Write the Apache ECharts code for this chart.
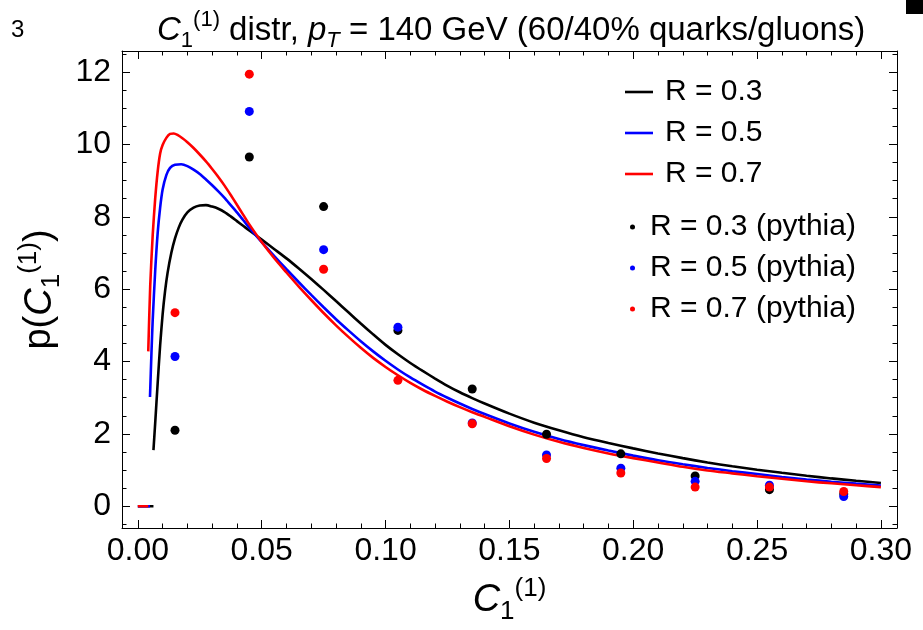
<!DOCTYPE html>
<html>
<head>
<meta charset="utf-8">
<script src="https://cdn.jsdelivr.net/npm/echarts@6/dist/echarts.min.js"></script>
<style>
  html, body { margin: 0; padding: 0; background: #fff; }
  #chart { width: 923px; height: 630px; }
</style>
</head>
<body>
<div id="chart"></div>
<script>
// Pythia histograms: bin centres and normalised densities
const binCentres = [0.015, 0.045, 0.075, 0.105, 0.135, 0.165, 0.195, 0.225, 0.255, 0.285];
const pythiaR03 = [2.10, 9.65, 8.28, 4.86, 3.24, 1.99, 1.45, 0.84, 0.46, 0.34];
const pythiaR05 = [4.14, 10.91, 7.09, 4.95, 2.30, 1.42, 1.05, 0.69, 0.58, 0.27];
const pythiaR07 = [5.35, 11.94, 6.55, 3.48, 2.28, 1.32, 0.92, 0.53, 0.53, 0.41];

// Analytic distributions, sampled along C1
const curveR03X = [0.0063, 0.0070, 0.0080, 0.0090, 0.0100, 0.0110, 0.0120, 0.0135, 0.0150, 0.0165, 0.0180,
  0.0200, 0.0225, 0.0250, 0.0275, 0.0300, 0.0325, 0.0350, 0.0375, 0.0400, 0.0425, 0.0450, 0.0500, 0.0550,
  0.0600, 0.0650, 0.0700, 0.0750, 0.0800, 0.0850, 0.0900, 0.0950, 0.1000, 0.1050, 0.1100, 0.1150, 0.1200,
  0.1250, 0.1300, 0.1350, 0.1400, 0.1500, 0.1600, 0.1700, 0.1800, 0.1900, 0.2000, 0.2100, 0.2200, 0.2300,
  0.2400, 0.2500, 0.2600, 0.2700, 0.2800, 0.2900, 0.3000];
const curveR03Y = [1.55, 2.30, 3.40, 4.45, 5.30, 5.95, 6.45, 7.00, 7.40, 7.70, 7.92,
  8.12, 8.25, 8.31, 8.32, 8.28, 8.22, 8.13, 8.01, 7.88, 7.75, 7.62, 7.37, 7.11,
  6.85, 6.57, 6.28, 5.98, 5.67, 5.36, 5.05, 4.75, 4.46, 4.20, 3.96, 3.74, 3.53,
  3.33, 3.15, 2.99, 2.84, 2.56, 2.31, 2.10, 1.91, 1.75, 1.60, 1.46, 1.33, 1.21,
  1.105, 1.01, 0.925, 0.845, 0.77, 0.705, 0.645];

const curveR05X = [0.0049, 0.0055, 0.0060, 0.0070, 0.0080, 0.0090, 0.0100, 0.0115, 0.0130, 0.0150, 0.0175,
  0.0200, 0.0225, 0.0250, 0.0275, 0.0300, 0.0325, 0.0350, 0.0375, 0.0400, 0.0425, 0.0450, 0.0500, 0.0550,
  0.0600, 0.0650, 0.0700, 0.0750, 0.0800, 0.0850, 0.0900, 0.0950, 0.1000, 0.1050, 0.1100, 0.1150, 0.1200,
  0.1250, 0.1300, 0.1350, 0.1400, 0.1500, 0.1600, 0.1700, 0.1800, 0.1900, 0.2000, 0.2100, 0.2200, 0.2300,
  0.2400, 0.2500, 0.2600, 0.2700, 0.2800, 0.2900, 0.3000];
const curveR05Y = [3.02, 4.25, 5.15, 6.50, 7.55, 8.25, 8.75, 9.15, 9.35, 9.44, 9.45,
  9.40, 9.30, 9.18, 9.03, 8.87, 8.70, 8.52, 8.32, 8.12, 7.91, 7.70, 7.30, 6.92,
  6.55, 6.19, 5.84, 5.50, 5.17, 4.86, 4.56, 4.28, 4.02, 3.78, 3.56, 3.36, 3.17,
  3.00, 2.84, 2.69, 2.55, 2.29, 2.06, 1.86, 1.69, 1.54, 1.40, 1.27, 1.16, 1.06,
  0.97, 0.89, 0.81, 0.74, 0.68, 0.625, 0.575];

const curveR07X = [0.0042, 0.0050, 0.0060, 0.0070, 0.0080, 0.0090, 0.0100, 0.0115, 0.0130, 0.0145, 0.0160,
  0.0180, 0.0200, 0.0225, 0.0250, 0.0275, 0.0300, 0.0325, 0.0350, 0.0375, 0.0400, 0.0425, 0.0450, 0.0500,
  0.0550, 0.0600, 0.0650, 0.0700, 0.0750, 0.0800, 0.0850, 0.0900, 0.0950, 0.1000, 0.1050, 0.1100, 0.1150,
  0.1200, 0.1250, 0.1300, 0.1350, 0.1400, 0.1500, 0.1600, 0.1700, 0.1800, 0.1900, 0.2000, 0.2100, 0.2200,
  0.2300, 0.2400, 0.2500, 0.2600, 0.2700, 0.2800, 0.2900, 0.3000];
const curveR07Y = [4.28, 6.10, 7.50, 8.50, 9.25, 9.75, 9.98, 10.18, 10.29, 10.30, 10.26,
  10.17, 10.06, 9.90, 9.72, 9.53, 9.32, 9.10, 8.86, 8.60, 8.33, 8.06, 7.79, 7.30,
  6.86, 6.46, 6.07, 5.70, 5.34, 5.00, 4.68, 4.38, 4.10, 3.85, 3.62, 3.41, 3.22,
  3.05, 2.89, 2.74, 2.60, 2.47, 2.21, 1.98, 1.78, 1.61, 1.46, 1.33, 1.21, 1.09,
  0.99, 0.91, 0.83, 0.76, 0.69, 0.635, 0.58, 0.53];

// Below its cutoff each density is identically zero
const cutoffStart = 0.0;

// Frame ticks
const xMajorTicks = [0.00, 0.05, 0.10, 0.15, 0.20, 0.25, 0.30];
const xMinorTicks = [0.01, 0.02, 0.03, 0.04, 0.06, 0.07, 0.08, 0.09, 0.11, 0.12, 0.13, 0.14,
  0.16, 0.17, 0.18, 0.19, 0.21, 0.22, 0.23, 0.24, 0.26, 0.27, 0.28, 0.29];
const yMajorTicks = [0, 2, 4, 6, 8, 10, 12];
const yMinorTicks = [-0.5, 0.5, 1, 1.5, 2.5, 3, 3.5, 4.5, 5, 5.5, 6.5, 7, 7.5, 8.5, 9, 9.5,
  10.5, 11, 11.5, 12.5];

const FONT = '"Liberation Sans", Arial, sans-serif';
const X_RANGE = [-0.0064, 0.3065];
const Y_RANGE = [-0.6, 12.58];

function zip(xs, ys) { return xs.map((x, i) => [x, ys[i]]); }
function withZeroPart(xs, ys) {
  const cut = xs[0];
  return [[cutoffStart, 0], [cut, 0], [cut, null]].concat(zip(xs, ys));
}

const chart = echarts.init(document.getElementById('chart'), null, { renderer: 'canvas' });

function frameAxis(kind, position, ticks, tickLen, showLine, labels) {
  const isX = kind === 'x';
  return {
    type: 'value',
    position: position,
    min: isX ? X_RANGE[0] : Y_RANGE[0],
    max: isX ? X_RANGE[1] : Y_RANGE[1],
    axisLine: { show: showLine, onZero: false, lineStyle: { color: '#000', width: 1 } },
    axisTick: { show: true, inside: true, length: tickLen, customValues: ticks,
      lineStyle: { color: '#000', width: 1 } },
    axisLabel: labels ? {
      show: true, customValues: ticks, color: '#000', fontFamily: FONT, fontSize: 32,
      margin: isX ? 7 : 11,
      formatter: v => isX ? Number(v).toFixed(2) : String(Math.round(v))
    } : { show: false },
    splitLine: { show: false },
    minorTick: { show: false },
    z: 5
  };
}

const curveStyle = color => ({
  type: 'line', xAxisIndex: 0, yAxisIndex: 0, showSymbol: false, symbol: 'none',
  smooth: 0.25, connectNulls: false,
  lineStyle: { color: color, width: 2.6 }, itemStyle: { color: color }, z: 2
});
const dotStyle = color => ({
  type: 'scatter', xAxisIndex: 0, yAxisIndex: 0, symbol: 'circle', symbolSize: 9,
  itemStyle: { color: color, opacity: 1 }, z: 3
});

// Rich-text styles for C1^(1) style labels at a given base size
function mathRich(size) {
  const small = Math.round(size * 0.68);
  const lh = Math.round(size * 1.3);
  return {
    n: { fontFamily: FONT, fontSize: size, lineHeight: lh, fontWeight: 'normal', color: '#000' },
    it: { fontFamily: FONT, fontSize: size, lineHeight: lh, fontWeight: 'normal', fontStyle: 'italic', color: '#000' },
    sub: { fontFamily: FONT, fontSize: small, lineHeight: small, fontWeight: 'normal', verticalAlign: 'bottom', color: '#000' },
    subi: { fontFamily: FONT, fontSize: small, lineHeight: small, fontWeight: 'normal', verticalAlign: 'bottom', fontStyle: 'italic', color: '#000' },
    sup: { fontFamily: FONT, fontSize: small, lineHeight: Math.round(small * 1.2), fontWeight: 'normal', verticalAlign: 'top', color: '#000' }
  };
}

chart.setOption({
  animation: false,
  backgroundColor: '#fff',
  title: [
    {
      text: '{it|C}{sub|1}{sup|(1)}{n| distr, }{it|p}{subi|T}{n| = 140 GeV (60/40% quarks/gluons)}',
      left: 152, top: 4,
      textStyle: { fontWeight: 'normal', rich: mathRich(33) }
    },
    {
      text: '3', left: 6, top: 13,
      textStyle: { fontFamily: FONT, fontSize: 24, fontWeight: 'normal', color: '#000' }
    }
  ],
  grid: { left: 122, right: 26, top: 51, bottom: 102, containLabel: false, outerBoundsMode: 'none' },
  xAxis: [
    Object.assign(frameAxis('x', 'bottom', xMajorTicks, 8, true, true), {
      name: '{it|C}{sub|1}{sup|(1)}', nameLocation: 'middle', nameGap: 48,
      nameTextStyle: { rich: mathRich(38) }
    }),
    frameAxis('x', 'bottom', xMinorTicks, 4.5, false, false),
    frameAxis('x', 'top', xMajorTicks, 8, true, false),
    frameAxis('x', 'top', xMinorTicks, 4.5, false, false)
  ],
  yAxis: [
    Object.assign(frameAxis('y', 'left', yMajorTicks, 8, true, true), {
      name: '{n|p(}{it|C}{sub|1}{sup|(1)}{n|)}', nameLocation: 'middle', nameGap: 56,
      nameRotate: 90, nameTextStyle: { rich: mathRich(38) }
    }),
    frameAxis('y', 'left', yMinorTicks, 4.5, false, false),
    frameAxis('y', 'right', yMajorTicks, 8, true, false),
    frameAxis('y', 'right', yMinorTicks, 4.5, false, false)
  ],
  legend: [
    {
      data: ['R = 0.3', 'R = 0.5', 'R = 0.7'],
      orient: 'vertical', left: 625, top: 77, padding: 0, itemGap: 11,
      icon: 'rect', itemWidth: 28, itemHeight: 2.6,
      textStyle: { fontFamily: FONT, fontSize: 30, lineHeight: 30, color: '#000', padding: [0, 0, 0, 7] },
      selectedMode: false
    },
    {
      data: ['R = 0.3 (pythia)', 'R = 0.5 (pythia)', 'R = 0.7 (pythia)'],
      orient: 'vertical', left: 630, top: 212, padding: 0, itemGap: 11,
      icon: 'circle', itemWidth: 5, itemHeight: 5,
      textStyle: { fontFamily: FONT, fontSize: 30, lineHeight: 30, color: '#000', padding: [0, 0, 0, 10] },
      selectedMode: false
    }
  ],
  graphic: [
    { type: 'rect', shape: { x: 906, y: 0, width: 17, height: 14 }, style: { fill: '#000' } }
  ],
  series: [
    Object.assign(curveStyle('#000000'), { name: 'R = 0.3', data: withZeroPart(curveR03X, curveR03Y) }),
    Object.assign(curveStyle('#0000ff'), { name: 'R = 0.5', data: withZeroPart(curveR05X, curveR05Y) }),
    Object.assign(curveStyle('#ff0000'), { name: 'R = 0.7', data: withZeroPart(curveR07X, curveR07Y) }),
    Object.assign(dotStyle('#000000'), { name: 'R = 0.3 (pythia)', data: zip(binCentres, pythiaR03) }),
    Object.assign(dotStyle('#0000ff'), { name: 'R = 0.5 (pythia)', data: zip(binCentres, pythiaR05) }),
    Object.assign(dotStyle('#ff0000'), { name: 'R = 0.7 (pythia)', data: zip(binCentres, pythiaR07) })
  ]
});
</script>
</body>
</html>
